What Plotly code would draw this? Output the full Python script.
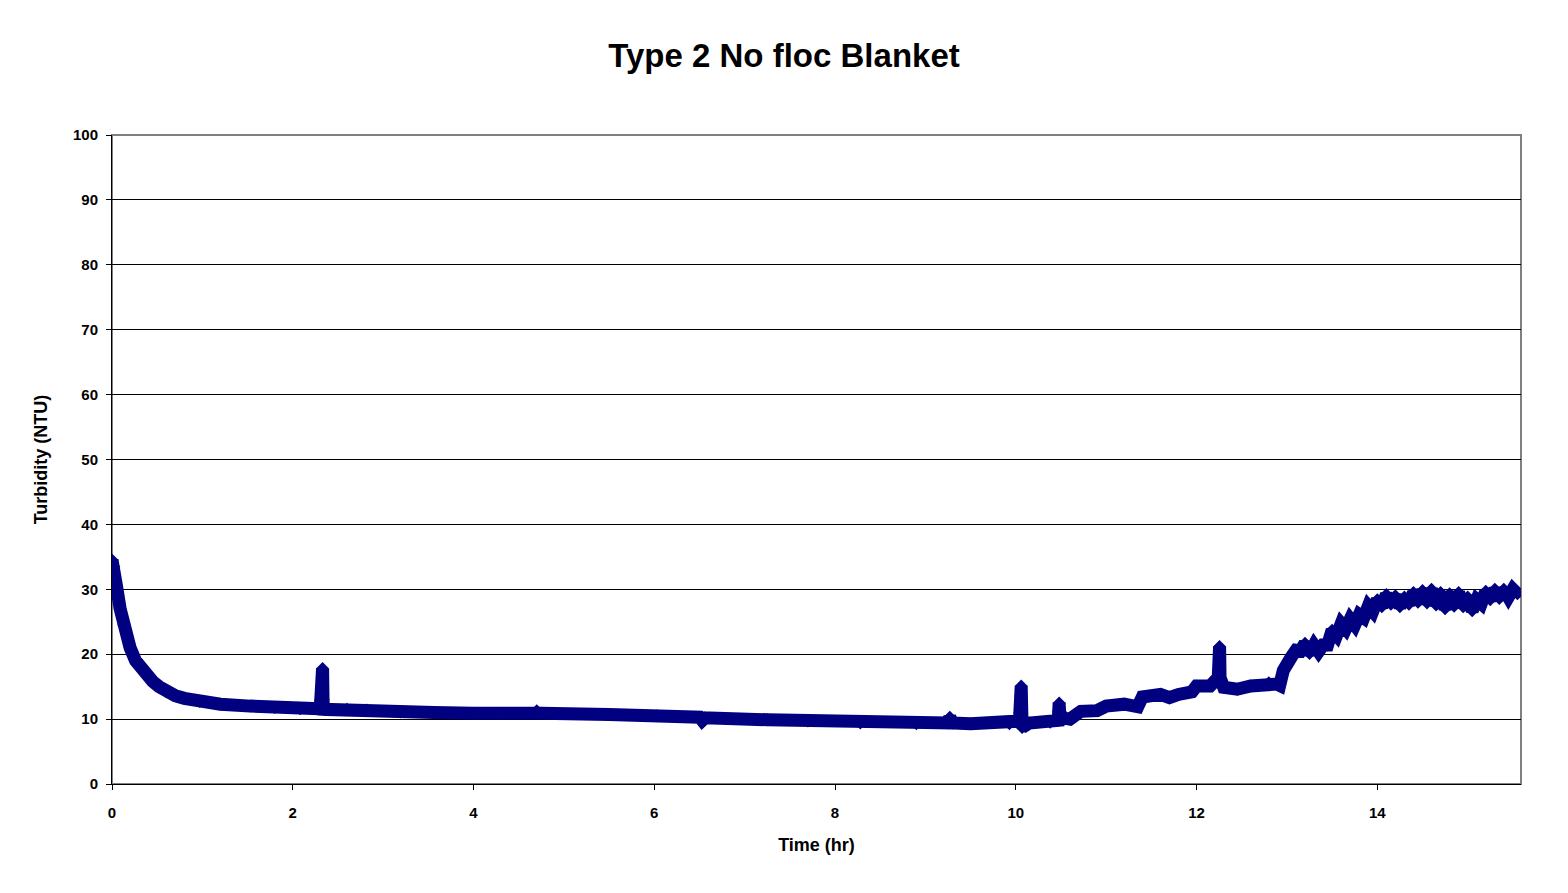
import plotly.graph_objects as go

# Turbidity readings (hr, NTU)
time_hr = [
    0.00, 0.02, 0.05, 0.09, 0.13, 0.20, 0.26, 0.31, 0.38, 0.45, 0.52, 0.60,
    0.70, 0.80, 0.97, 1.20, 1.53, 1.80, 2.08, 2.30,
    2.31, 2.315, 2.32, 2.325, 2.33, 2.335, 2.34,
    2.60, 2.82, 3.19, 3.56, 4.00, 4.29, 4.70, 4.75, 5.50, 6.03, 6.50, 6.53,
    6.56, 7.25, 7.70, 8.28, 8.90, 9.25, 9.27, 9.30, 9.50, 9.93,
    10.04, 10.045, 10.05, 10.055, 10.06, 10.065, 10.07, 10.15, 10.38,
    10.47, 10.475, 10.48, 10.485, 10.52, 10.60, 10.72, 10.90, 11.00, 11.20,
    11.35, 11.40, 11.60, 11.70, 11.80, 11.95, 12.00, 12.15,
    12.24, 12.245, 12.25, 12.255, 12.26, 12.30, 12.45, 12.60, 12.80, 12.89,
    12.92, 12.96, 13.05,
    13.10, 13.15, 13.20, 13.25, 13.30, 13.35, 13.40, 13.45, 13.50, 13.55,
    13.60, 13.65, 13.70, 13.75, 13.80, 13.85, 13.90, 13.95, 14.00, 14.05,
    14.10, 14.15, 14.20, 14.25, 14.30, 14.35, 14.40, 14.45, 14.50, 14.55,
    14.60, 14.65, 14.70, 14.75, 14.80, 14.85, 14.90, 14.95, 15.00, 15.05,
    15.10, 15.15, 15.20, 15.25, 15.30, 15.35, 15.40, 15.45, 15.50, 15.55,
]
turbidity_ntu = [
    34.5, 33.5, 30.5, 27.0, 24.5, 21.0, 19.0, 18.0, 16.8, 15.8, 15.0, 14.2,
    13.6, 13.2, 12.7, 12.3, 12.0, 11.8, 11.6, 11.6,
    13.0, 14.0, 15.1, 16.5, 17.8, 13.0, 11.5,
    11.5, 11.4, 11.1, 11.0, 10.9, 10.9, 11.3, 10.9, 10.7, 10.5, 10.3, 9.8,
    10.2, 9.9, 9.7, 9.4, 9.3, 9.4, 10.3, 9.4, 9.3, 9.3,
    9.7, 11.0, 12.3, 13.6, 15.1, 11.0, 8.7, 9.4, 9.5,
    9.8, 11.2, 12.5, 11.0, 10.2, 10.0, 11.2, 11.3, 12.0, 12.3,
    11.9, 13.4, 13.8, 13.3, 13.8, 14.2, 15.1, 15.1,
    16.4, 17.7, 19.2, 21.2, 16.4, 14.9, 14.6, 15.1, 15.6, 15.4,
    15.2, 17.5, 19.6,
    20.6, 20.5, 21.7, 20.1, 21.4, 20.4, 21.4, 21.4, 23.7, 22.9,
    24.7, 23.9, 25.4, 24.5, 26.1, 25.6, 27.4, 26.6, 28.4, 27.3,
    29.2, 27.7, 29.0, 27.3, 28.8, 27.7, 29.5, 28.0, 29.8, 27.9,
    30.0, 27.6, 29.5, 27.0, 29.3, 27.4, 29.5, 27.3, 28.8, 26.7,
    28.4, 27.8, 29.7, 28.4, 30.0, 28.6, 30.0, 28.8, 30.0, 29.3,
]

x_ticks = [0, 2, 4, 6, 8, 10, 12, 14]
y_ticks = [0, 10, 20, 30, 40, 50, 60, 70, 80, 90, 100]

NAVY = "#000080"
FONT = "Liberation Sans, Arial, sans-serif"

fig = go.Figure()
fig.add_trace(go.Scatter(
    x=time_hr, y=turbidity_ntu, mode="lines+markers",
    line=dict(color=NAVY, width=13),
    marker=dict(symbol="diamond", size=10, color=NAVY),
    showlegend=False, hoverinfo="x+y",
))

# grey plot-area border (top and right edges)
fig.add_shape(type="rect", xref="paper", yref="paper", x0=0, y0=0, x1=1, y1=1,
              line=dict(color="#808080", width=2), layer="below")

# page body has an 8px margin, so the figure is sized to fit inside it
fig.update_layout(
    width=1552, height=877,
    paper_bgcolor="white", plot_bgcolor="white",
    margin=dict(l=104, r=39, t=127, b=101),
    font=dict(family=FONT, color="black"),
    title=dict(text="Type 2 No floc Blanket", x=0.5, xanchor="center",
               y=0.946, yanchor="middle",
               font=dict(size=33, weight="bold", family=FONT)),
)
fig.update_xaxes(
    range=[0, 15.59], tickvals=x_ticks, ticks="outside", ticklen=5,
    tickcolor="black", showgrid=False, zeroline=False,
    showline=True, linecolor="black", linewidth=1,
    tickfont=dict(size=15, weight="bold"), ticklabelstandoff=10,
    title=dict(text="Time (hr)", font=dict(size=18, weight="bold"), standoff=18),
)
fig.update_yaxes(
    range=[0, 100], tickvals=y_ticks, ticks="outside", ticklen=5,
    tickcolor="black", showgrid=True, gridcolor="black", gridwidth=1,
    zeroline=False, showline=True, linecolor="black", linewidth=1,
    tickfont=dict(size=15, weight="bold"), ticklabelstandoff=5,
    title=dict(text="Turbidity (NTU)", font=dict(size=18, weight="bold"), standoff=20),
)

fig.write_html("out.html")
